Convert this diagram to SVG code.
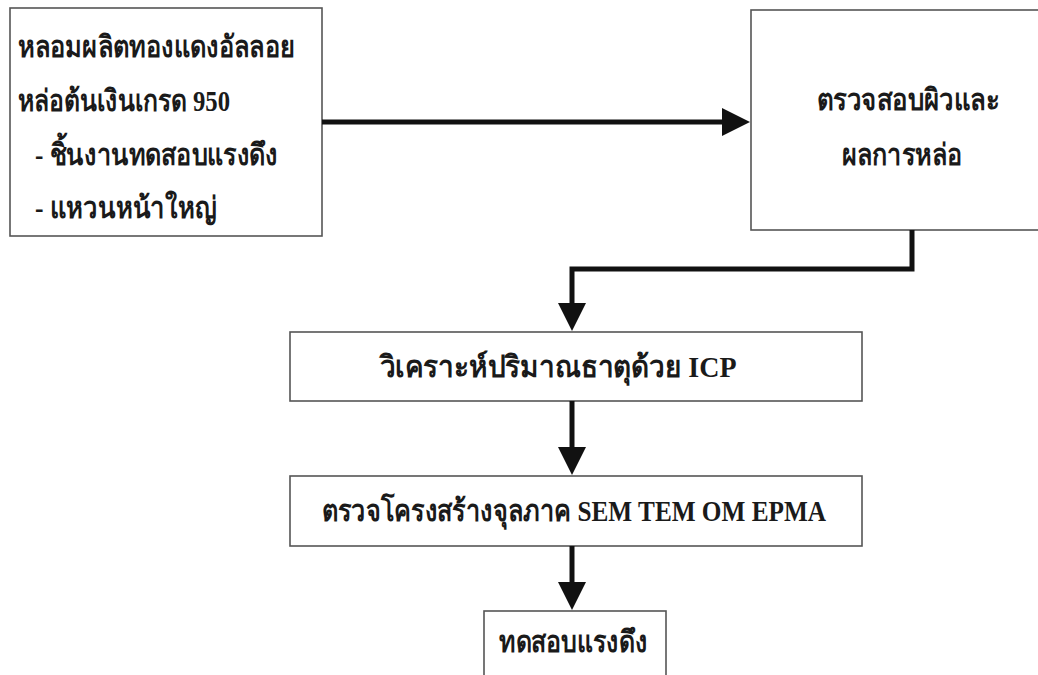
<svg xmlns="http://www.w3.org/2000/svg" width="1038" height="675" viewBox="0 0 1038 675">
  <defs>
    <style>
      .box { fill: #ffffff; stroke: #555555; stroke-width: 1.6; }
      .conn { fill: none; stroke: #111111; stroke-width: 5; stroke-linejoin: miter; }
      .t { font-family: "Liberation Serif", "DejaVu Serif", serif; font-weight: bold; font-size: 30px; fill: #1a1a1a; }
      .c { text-anchor: middle; }
    </style>
    <marker id="ah" markerUnits="userSpaceOnUse" markerWidth="30" markerHeight="30" refX="1" refY="14" orient="auto">
      <path d="M0,0 L28,14 L0,28 Z" fill="#111111"/>
    </marker>
  </defs>
  <rect width="1038" height="675" fill="#ffffff"/>

  <g id="node-casting">
    <rect class="box" x="10" y="8" width="312" height="228"/>
    <text class="t" x="18" y="57" textLength="277" lengthAdjust="spacingAndGlyphs">หลอมผลิตทองแดงอัลลอย</text>
    <text class="t" x="18" y="111" textLength="212" lengthAdjust="spacingAndGlyphs">หล่อต้นเงินเกรด 950</text>
    <text class="t" x="35" y="165" textLength="243" lengthAdjust="spacingAndGlyphs">- ชิ้นงานทดสอบแรงดึง</text>
    <text class="t" x="35" y="218" textLength="182" lengthAdjust="spacingAndGlyphs">- แหวนหน้าใหญ่</text>
  </g>

  <g id="node-surface">
    <rect class="box" x="751" y="10" width="320" height="220"/>
    <text class="t c" x="908" y="110" textLength="183" lengthAdjust="spacingAndGlyphs">ตรวจสอบผิวและ</text>
    <text class="t c" x="902" y="165" textLength="120" lengthAdjust="spacingAndGlyphs">ผลการหล่อ</text>
  </g>

  <g id="node-icp">
    <rect class="box" x="290" y="332" width="572" height="69"/>
    <text class="t c" x="558" y="377" textLength="357" lengthAdjust="spacingAndGlyphs">วิเคราะห์ปริมาณธาตุด้วย ICP</text>
  </g>

  <g id="node-micro">
    <rect class="box" x="290" y="476" width="572" height="70"/>
    <text class="t c" x="574" y="521" textLength="504" lengthAdjust="spacingAndGlyphs">ตรวจโครงสร้างจุลภาค  SEM TEM OM EPMA</text>
  </g>

  <g id="node-tensile">
    <rect class="box" x="484" y="611" width="182" height="80"/>
    <text class="t c" x="573" y="652" textLength="148" lengthAdjust="spacingAndGlyphs">ทดสอบแรงดึง</text>
  </g>

  <g id="connectors">
    <path class="conn" d="M322,122 H723" marker-end="url(#ah)"/>
    <path class="conn" d="M912,230 V269 H572 V304" marker-end="url(#ah)"/>
    <path class="conn" d="M572,401 V448" marker-end="url(#ah)"/>
    <path class="conn" d="M572,546 V583" marker-end="url(#ah)"/>
  </g>
</svg>
